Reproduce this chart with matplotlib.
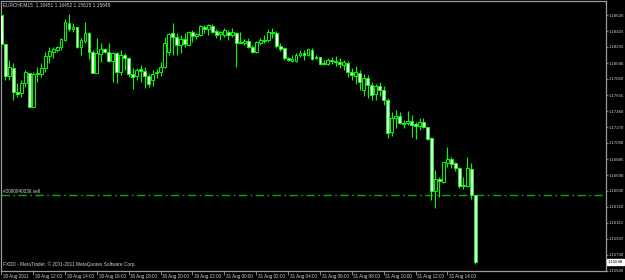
import matplotlib
matplotlib.use("Agg")
import matplotlib.pyplot as plt
import matplotlib.transforms as mtransforms
from matplotlib.patches import Rectangle

symbol_header = "EURCHF,M15  1.16451 1.16452 1.15615 1.15648"
copyright_text = "FXDD - MetaTrader, \u00a9 2001-2011 MetaQuotes Software Corp."
order_label = "#2090940036 sell"
order_price = 1.16451
last_price = 1.15648

opens = [1.18620, 1.18271, 1.17885, 1.17982, 1.17693, 1.17680, 1.17801, 1.17921, 1.17512, 1.17921,
         1.17909, 1.17982, 1.18126, 1.18174, 1.18198, 1.18235, 1.18319, 1.18524, 1.18451, 1.18475,
         1.18235, 1.18307, 1.18403, 1.18174, 1.17921, 1.18150, 1.18210, 1.18174, 1.18066, 1.18162,
         1.17933, 1.18138, 1.18102, 1.17909, 1.17885, 1.17970, 1.17945, 1.17885, 1.17837, 1.17921,
         1.17933, 1.17994, 1.18174, 1.18403, 1.18355, 1.18259, 1.18331, 1.18259, 1.18415, 1.18367,
         1.18379, 1.18475, 1.18451, 1.18488, 1.18427, 1.18391, 1.18379, 1.18415, 1.18379, 1.18403,
         1.18295, 1.18283, 1.18307, 1.18235, 1.18174, 1.18283, 1.18319, 1.18319, 1.18415, 1.18403,
         1.18247, 1.18223, 1.18102, 1.18066, 1.18066, 1.18138, 1.18162, 1.18138, 1.18198, 1.18114,
         1.18114, 1.18042, 1.18030, 1.18078, 1.18066, 1.18054, 1.18018, 1.18042, 1.17933, 1.17885,
         1.17921, 1.17717, 1.17861, 1.17777, 1.17668, 1.17765, 1.17717, 1.17596, 1.17211, 1.17380,
         1.17404, 1.17319, 1.17319, 1.17343, 1.17307, 1.17283, 1.17331, 1.17271, 1.17139, 1.16500,
         1.16645, 1.16609, 1.16837, 1.16886, 1.16837, 1.16777, 1.16573, 1.16561, 1.16765, 1.16451]
highs = [1.18632, 1.18271, 1.18078, 1.18042, 1.17801, 1.17837, 1.17958, 1.17921, 1.17933, 1.17994,
         1.18042, 1.18174, 1.18235, 1.18235, 1.18247, 1.18343, 1.18572, 1.18632, 1.18524, 1.18475,
         1.18343, 1.18536, 1.18415, 1.18198, 1.18343, 1.18283, 1.18223, 1.18283, 1.18174, 1.18174,
         1.18198, 1.18162, 1.18114, 1.17982, 1.17982, 1.18018, 1.17994, 1.17909, 1.17958, 1.17970,
         1.18054, 1.18355, 1.18403, 1.18524, 1.18403, 1.18379, 1.18403, 1.18427, 1.18439, 1.18403,
         1.18500, 1.18500, 1.18512, 1.18512, 1.18451, 1.18427, 1.18463, 1.18439, 1.18463, 1.18415,
         1.18415, 1.18331, 1.18343, 1.18259, 1.18307, 1.18343, 1.18379, 1.18451, 1.18463, 1.18427,
         1.18283, 1.18235, 1.18114, 1.18138, 1.18162, 1.18198, 1.18198, 1.18223, 1.18223, 1.18138,
         1.18114, 1.18078, 1.18102, 1.18114, 1.18126, 1.18102, 1.18078, 1.18066, 1.17982, 1.18006,
         1.17958, 1.17909, 1.17897, 1.17813, 1.17789, 1.17813, 1.17765, 1.17620, 1.17452, 1.17476,
         1.17452, 1.17356, 1.17464, 1.17416, 1.17331, 1.17380, 1.17380, 1.17271, 1.17151, 1.16753,
         1.16669, 1.16849, 1.17030, 1.16910, 1.16849, 1.16789, 1.16669, 1.16910, 1.16837, 1.16452]
lows = [1.18259, 1.17837, 1.17837, 1.17596, 1.17632, 1.17632, 1.17753, 1.17512, 1.17512, 1.17813,
        1.17873, 1.17933, 1.18042, 1.18102, 1.18174, 1.18198, 1.18307, 1.18427, 1.18415, 1.18223,
        1.18138, 1.18283, 1.18090, 1.17921, 1.17921, 1.18054, 1.18162, 1.18054, 1.17813, 1.17801,
        1.17897, 1.17958, 1.17873, 1.17729, 1.17837, 1.17813, 1.17741, 1.17753, 1.17765, 1.17861,
        1.17885, 1.17982, 1.18138, 1.18138, 1.18138, 1.18162, 1.18235, 1.18247, 1.18295, 1.18331,
        1.18367, 1.18403, 1.18379, 1.18403, 1.18343, 1.18319, 1.18355, 1.18319, 1.18355, 1.17994,
        1.18283, 1.18259, 1.18223, 1.18162, 1.18162, 1.18259, 1.18283, 1.18295, 1.18343, 1.18223,
        1.18186, 1.18078, 1.18066, 1.18054, 1.18054, 1.18114, 1.18078, 1.18126, 1.18078, 1.18090,
        1.18018, 1.18018, 1.18018, 1.18030, 1.18006, 1.17982, 1.17958, 1.17873, 1.17837, 1.17789,
        1.17717, 1.17644, 1.17620, 1.17596, 1.17596, 1.17644, 1.17536, 1.17139, 1.17163, 1.17259,
        1.17307, 1.17259, 1.17295, 1.17151, 1.17126, 1.17235, 1.17259, 1.17114, 1.16392, 1.16295,
        1.16428, 1.16597, 1.16789, 1.16777, 1.16741, 1.16536, 1.16524, 1.16548, 1.16404, 1.15615]
closes = [1.18271, 1.17885, 1.17994, 1.17693, 1.17668, 1.17801, 1.17933, 1.17512, 1.17909, 1.17909,
          1.17982, 1.18126, 1.18186, 1.18210, 1.18235, 1.18331, 1.18536, 1.18451, 1.18475, 1.18235,
          1.18319, 1.18403, 1.18174, 1.17921, 1.18162, 1.18210, 1.18174, 1.18066, 1.18162, 1.17933,
          1.18138, 1.18102, 1.17909, 1.17873, 1.17958, 1.17945, 1.17885, 1.17789, 1.17909, 1.17933,
          1.17994, 1.18283, 1.18391, 1.18355, 1.18259, 1.18331, 1.18271, 1.18415, 1.18367, 1.18391,
          1.18488, 1.18451, 1.18500, 1.18415, 1.18379, 1.18415, 1.18439, 1.18379, 1.18415, 1.18283,
          1.18283, 1.18307, 1.18235, 1.18174, 1.18295, 1.18319, 1.18313, 1.18415, 1.18403, 1.18247,
          1.18210, 1.18102, 1.18078, 1.18090, 1.18138, 1.18162, 1.18138, 1.18210, 1.18090, 1.18102,
          1.18030, 1.18030, 1.18078, 1.18066, 1.18054, 1.18030, 1.18054, 1.17933, 1.17897, 1.17933,
          1.17813, 1.17861, 1.17777, 1.17656, 1.17765, 1.17717, 1.17596, 1.17199, 1.17380, 1.17404,
          1.17319, 1.17307, 1.17343, 1.17295, 1.17283, 1.17331, 1.17271, 1.17126, 1.16500, 1.16645,
          1.16621, 1.16849, 1.16886, 1.16825, 1.16777, 1.16561, 1.16561, 1.16777, 1.16452, 1.15648]

time_labels = ["30 Aug 2011", "30 Aug 12:00", "30 Aug 14:00", "30 Aug 16:00", "30 Aug 18:00",
               "30 Aug 20:00", "30 Aug 22:00", "31 Aug 00:00", "31 Aug 02:00", "31 Aug 04:00",
               "31 Aug 06:00", "31 Aug 08:00", "31 Aug 10:00", "31 Aug 12:00", "31 Aug 14:00"]
time_label_bars = [0, 8, 16, 24, 32, 40, 48, 56, 64, 72, 80, 88, 96, 104, 112]
price_ticks = [1.18620, 1.18425, 1.18235, 1.18040, 1.17850, 1.17655, 1.17460, 1.17270, 1.17080,
               1.16885, 1.16690, 1.16500, 1.16310, 1.16115, 1.15925, 1.15730, 1.15540]

LIME = "#00ff00"
FRAME = "#9a9a9a"
TXT = "#d0d0d0"
FONT = "Liberation Sans"

fig = plt.figure(figsize=(6.25, 2.8), dpi=100, facecolor="black")
ax = fig.add_axes([1 / 625, 9 / 280, 604.7 / 625, 270 / 280])
ax.set_facecolor("black")

w = 0.72
for i, (o, h, l, c) in enumerate(zip(opens, highs, lows, closes)):
    ax.vlines(i, l, h, color=LIME, lw=0.8, zorder=2)
    bottom = min(o, c)
    height = abs(c - o)
    face = "white" if c < o else "black"
    ax.add_patch(Rectangle((i - w / 2, bottom), w, height, facecolor=face,
                           edgecolor=LIME, lw=0.7, zorder=3))

ax.set_xlim(-0.08, 151.75)
ax.set_ylim(1.15536, 1.18789)

# order line
ax.axhline(order_price, color="#00b000", lw=1.0, ls=(0, (6, 2.5, 1.2, 2.5)), zorder=1)
trans_ay = mtransforms.blended_transform_factory(ax.transAxes, ax.transData)
ax.text(0.004, order_price + 0.00012, order_label, transform=trans_ay, fontsize=3.4,
        family=FONT, color=TXT, va="bottom", ha="left")

# header and copyright
ax.text(0.004, 0.985, symbol_header, transform=ax.transAxes, fontsize=3.4, family=FONT,
        color=TXT, va="center", ha="left")
ax.text(0.004, 0.024, copyright_text, transform=ax.transAxes, fontsize=3.4, family=FONT,
        color=TXT, va="center", ha="left")

for s in ax.spines.values():
    s.set_color(FRAME)
    s.set_linewidth(0.9)

# y axis on right
ax.yaxis.tick_right()
ax.set_yticks(price_ticks)
ax.set_yticklabels(["%.5f" % p for p in price_ticks])
ax.tick_params(axis="y", colors=FRAME, labelcolor=TXT, labelsize=3.1, length=1.6,
               width=0.6, pad=0.6, direction="out")
for lab in ax.get_yticklabels():
    lab.set_family(FONT)

# x axis ticks
ax.set_xticks(time_label_bars)
ax.set_xticklabels([])
ax.tick_params(axis="x", colors=FRAME, length=3.0, width=0.6, direction="out")
trans_xa = mtransforms.blended_transform_factory(ax.transData, ax.transAxes)
for b, lab in zip(time_label_bars, time_labels):
    ax.annotate(lab, xy=(b, 0), xycoords=trans_xa, xytext=(1.2, -2.0),
                textcoords="offset points", fontsize=3.3, family=FONT, color=TXT,
                va="top", ha="left", annotation_clip=False)

# current price box
ax.annotate("%.5f" % last_price, xy=(1.0, last_price), xycoords=trans_ay,
            xytext=(1.6, 0), textcoords="offset points", fontsize=3.1, family=FONT,
            color="black", va="center", ha="left", annotation_clip=False,
            bbox=dict(boxstyle="square,pad=0.2", facecolor="white", edgecolor="white"))

fig.savefig("out.png", dpi=100, facecolor="black")
